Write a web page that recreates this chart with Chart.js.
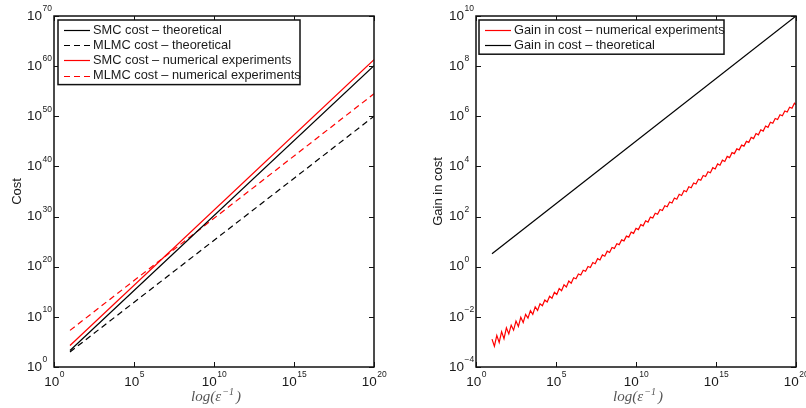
<!DOCTYPE html>
<html>
<head>
<meta charset="utf-8">
<script src="https://cdn.jsdelivr.net/npm/chart.js@4.4.0/dist/chart.umd.min.js"></script>
<style>
  body { margin: 0; background: #fff; }
  #wrap { position: relative; width: 806px; height: 408px; }
  .panel { position: absolute; top: 0; height: 408px; }
  #left { left: 0; width: 400px; }
  #right { left: 400px; width: 406px; }
</style>
</head>
<body>
<div id="wrap">
  <div class="panel" id="left"><canvas id="costChart"></canvas></div>
  <div class="panel" id="right"><canvas id="gainChart"></canvas></div>
</div>
<script>
// every number below is a power of ten (log10)
const xTickExp = [0, 5, 10, 15, 20];
const costTickExp = [0, 10, 20, 30, 40, 50, 60, 70];
const gainTickExp = [-4, -2, 0, 2, 4, 6, 8, 10];

const costLabels = [
  "SMC cost \u2013 theoretical",
  "MLMC cost \u2013 theoretical",
  "SMC cost \u2013 numerical experiments",
  "MLMC cost \u2013 numerical experiments"
];
const gainLabels = [
  "Gain in cost \u2013 numerical experiments",
  "Gain in cost \u2013 theoretical"
];

const lineXExp = [1.0, 20.0];
const smcTheoExp = [3.3, 60.1];
const mlmcTheoExp = [3.0, 50.0];
const smcNumExp = [4.3, 61.3];
const mlmcNumExp = [7.3, 54.5];

const gainTheoExp = [0.52, 10.0];

// [log10 x, log10 gain] – the saw-tooth of the numerical gain
const gainNumExp = [
  [1.00,-2.89],[1.15,-3.17],[1.30,-2.74],[1.45,-3.02],[1.60,-2.59],[1.75,-2.87],[1.90,-2.44],[2.05,-2.68],
  [2.20,-2.33],[2.35,-2.53],[2.50,-2.17],[2.65,-2.38],[2.80,-2.02],[2.95,-2.23],[3.10,-1.90],[3.25,-2.05],
  [3.40,-1.75],[3.55,-1.90],[3.70,-1.60],[3.85,-1.74],[4.00,-1.48],[4.15,-1.56],[4.30,-1.33],[4.45,-1.41],
  [4.60,-1.18],[4.75,-1.26],[4.90,-1.02],[5.05,-1.11],[5.20,-0.87],[5.35,-0.96],[5.50,-0.72],[5.65,-0.81],
  [5.80,-0.57],[5.95,-0.66],[6.10,-0.44],[6.25,-0.48],[6.40,-0.29],[6.55,-0.33],[6.70,-0.14],[6.85,-0.18],
  [7.00,0.01],[7.15,-0.03],[7.30,0.17],[7.45,0.12],[7.60,0.32],[7.75,0.27],[7.90,0.47],[8.05,0.42],
  [8.20,0.62],[8.35,0.57],[8.50,0.77],[8.65,0.73],[8.80,0.92],[8.95,0.88],[9.10,1.07],[9.25,1.03],
  [9.40,1.22],[9.55,1.18],[9.70,1.38],[9.85,1.33],[10.00,1.53],[10.15,1.48],[10.30,1.68],[10.45,1.63],
  [10.60,1.83],[10.75,1.78],[10.90,1.98],[11.05,1.94],[11.20,2.13],[11.35,2.09],[11.50,2.28],[11.65,2.24],
  [11.80,2.43],[11.95,2.39],[12.10,2.58],[12.25,2.54],[12.40,2.74],[12.55,2.69],[12.70,2.89],[12.85,2.84],
  [13.00,3.04],[13.15,2.99],[13.30,3.19],[13.45,3.15],[13.60,3.34],[13.75,3.30],[13.90,3.49],[14.05,3.45],
  [14.20,3.64],[14.35,3.60],[14.50,3.79],[14.65,3.75],[14.80,3.95],[14.95,3.90],[15.10,4.10],[15.25,4.05],
  [15.40,4.25],[15.55,4.20],[15.70,4.40],[15.85,4.35],[16.00,4.55],[16.15,4.51],[16.30,4.70],[16.45,4.66],
  [16.60,4.85],[16.75,4.81],[16.90,5.00],[17.05,4.96],[17.20,5.16],[17.35,5.11],[17.50,5.31],[17.65,5.26],
  [17.80,5.46],[17.95,5.41],[18.10,5.61],[18.25,5.56],[18.40,5.76],[18.55,5.72],[18.70,5.91],[18.85,5.87],
  [19.00,6.06],[19.15,6.02],[19.30,6.21],[19.45,6.17],[19.60,6.36],[19.75,6.32],[19.90,6.52],[20.00,6.47]
];

const FONT = '"Liberation Sans", Arial, sans-serif';
const TEXT = "#1a1a1a";

function toPoints(xs, ys) {
  return xs.map((x, i) => ({ x: Math.pow(10, x), y: Math.pow(10, ys[i]) }));
}

function supText(e) {
  return String(e).replace("-", "\u2212");
}

const framePlugin = {
  id: "frame",
  afterDatasetsDraw(chart, args, opts) {
    const { ctx, chartArea: a, scales } = chart;
    const xs = scales.x, ys = scales.y;
    ctx.save();

    // box
    ctx.strokeStyle = "#111";
    ctx.lineWidth = 1.5;
    ctx.strokeRect(a.left, a.top, a.right - a.left, a.bottom - a.top);

    // inward ticks on all four sides
    ctx.lineWidth = 1;
    ctx.beginPath();
    xTickExp.forEach(e => {
      const px = Math.round(xs.getPixelForValue(Math.pow(10, e))) + 0.5;
      ctx.moveTo(px, a.bottom); ctx.lineTo(px, a.bottom - 5);
      ctx.moveTo(px, a.top); ctx.lineTo(px, a.top + 5);
    });
    opts.yTicks.forEach(e => {
      const py = Math.round(ys.getPixelForValue(Math.pow(10, e))) + 0.5;
      ctx.moveTo(a.left, py); ctx.lineTo(a.left + 5, py);
      ctx.moveTo(a.right, py); ctx.lineTo(a.right - 5, py);
    });
    ctx.stroke();

    // tick labels 10^n
    const baseFont = "13.5px " + FONT;
    const expFont = "8.5px " + FONT;
    ctx.fillStyle = TEXT;
    ctx.textBaseline = "middle";
    xTickExp.forEach(e => {
      const px = xs.getPixelForValue(Math.pow(10, e));
      ctx.font = baseFont;
      const bw = ctx.measureText("10").width;
      ctx.font = expFont;
      const ew = ctx.measureText(supText(e)).width;
      const x0 = px - (bw + ew) / 2;
      ctx.textAlign = "left";
      ctx.font = baseFont;
      ctx.fillText("10", x0, a.bottom + 15);
      ctx.font = expFont;
      ctx.fillText(supText(e), x0 + bw + 0.5, a.bottom + 8);
    });
    opts.yTicks.forEach(e => {
      const py = ys.getPixelForValue(Math.pow(10, e));
      ctx.font = baseFont;
      ctx.textAlign = "right";
      ctx.fillText("10", a.left - 12, py);
      ctx.font = expFont;
      ctx.textAlign = "left";
      ctx.fillText(supText(e), a.left - 11.5, py - 7);
    });

    // y title
    ctx.save();
    ctx.translate(opts.yTitleX, (a.top + a.bottom) / 2);
    ctx.rotate(-Math.PI / 2);
    ctx.font = "13px " + FONT;
    ctx.textAlign = "center";
    ctx.fillText(opts.yTitle, 0, 0);
    ctx.restore();

    // x title: log(eps^-1)
    ctx.fillStyle = "#555";
    ctx.textAlign = "left";
    const big = 'italic 15px "Liberation Serif", "DejaVu Serif", serif';
    const small = 'italic 10px "Liberation Serif", "DejaVu Serif", serif';
    ctx.font = big;
    const w1 = ctx.measureText("log(\u03b5").width;
    const w3 = ctx.measureText(")").width;
    ctx.font = small;
    const w2 = ctx.measureText("\u22121").width;
    let tx = (a.left + a.right) / 2 + 2 - (w1 + w2 + w3 + 3) / 2;
    const ty = a.bottom + 30;
    ctx.font = big;
    ctx.fillText("log(\u03b5", tx, ty);
    ctx.font = small;
    ctx.fillText("\u22121", tx + w1 + 1, ty - 5);
    ctx.font = big;
    ctx.fillText(")", tx + w1 + w2 + 3, ty);

    // legend box
    const ds = chart.data.datasets;
    const rowH = 15.2;
    const bx = a.left + opts.legendDx, by = a.top + 4;
    const bw = opts.legendW;
    const bh = 10 + rowH * (ds.length - 1) + 9;
    ctx.fillStyle = "#fff";
    ctx.fillRect(bx, by, bw, bh);
    ctx.strokeStyle = "#111";
    ctx.lineWidth = 1.5;
    ctx.strokeRect(bx, by, bw, bh);
    ctx.font = "12.8px " + FONT;
    ds.forEach((d, i) => {
      const ry = by + 10 + i * rowH;
      ctx.strokeStyle = d.borderColor;
      ctx.lineWidth = 1.2;
      ctx.setLineDash(d.borderDash || []);
      ctx.beginPath();
      ctx.moveTo(bx + 6, Math.round(ry) + 0.5);
      ctx.lineTo(bx + 32, Math.round(ry) + 0.5);
      ctx.stroke();
      ctx.setLineDash([]);
      ctx.fillStyle = TEXT;
      ctx.textAlign = "left";
      ctx.textBaseline = "middle";
      ctx.fillText(d.label, bx + 35, ry);
    });

    ctx.restore();
  }
};

function logScale(min, max) {
  return { type: "logarithmic", display: false, min: min, max: max };
}

function makeChart(id, datasets, yMin, yMax, pad, frameOpts) {
  return new Chart(document.getElementById(id), {
    type: "line",
    data: { datasets: datasets },
    options: {
      responsive: true,
      maintainAspectRatio: false,
      animation: false,
      devicePixelRatio: 1,
      layout: { padding: pad },
      parsing: false,
      elements: { point: { radius: 0 }, line: { tension: 0, borderWidth: 1.2 } },
      scales: { x: logScale(1, 1e20), y: logScale(yMin, yMax) },
      plugins: { legend: { display: false }, tooltip: { enabled: false }, frame: frameOpts }
    },
    plugins: [framePlugin]
  });
}

makeChart("costChart", [
  { label: costLabels[0], data: toPoints(lineXExp, smcTheoExp), borderColor: "#000", borderDash: [] },
  { label: costLabels[1], data: toPoints(lineXExp, mlmcTheoExp), borderColor: "#000", borderDash: [6, 4] },
  { label: costLabels[2], data: toPoints(lineXExp, smcNumExp), borderColor: "#ff0000", borderDash: [] },
  { label: costLabels[3], data: toPoints(lineXExp, mlmcNumExp), borderColor: "#ff0000", borderDash: [6, 4] }
], 1, 1e70, { left: 54, right: 26, top: 16, bottom: 41 },
  { yTicks: costTickExp, yTitle: "Cost", yTitleX: 17, legendDx: 4, legendW: 242 });

makeChart("gainChart", [
  { label: gainLabels[0], data: toPoints(gainNumExp.map(p => p[0]), gainNumExp.map(p => p[1])), borderColor: "#ff0000", borderDash: [] },
  { label: gainLabels[1], data: toPoints(lineXExp, gainTheoExp), borderColor: "#000", borderDash: [] }
], 1e-4, 1e10, { left: 76, right: 10, top: 16, bottom: 41 },
  { yTicks: gainTickExp, yTitle: "Gain in cost", yTitleX: 38, legendDx: 3, legendW: 245 });
</script>
</body>
</html>
